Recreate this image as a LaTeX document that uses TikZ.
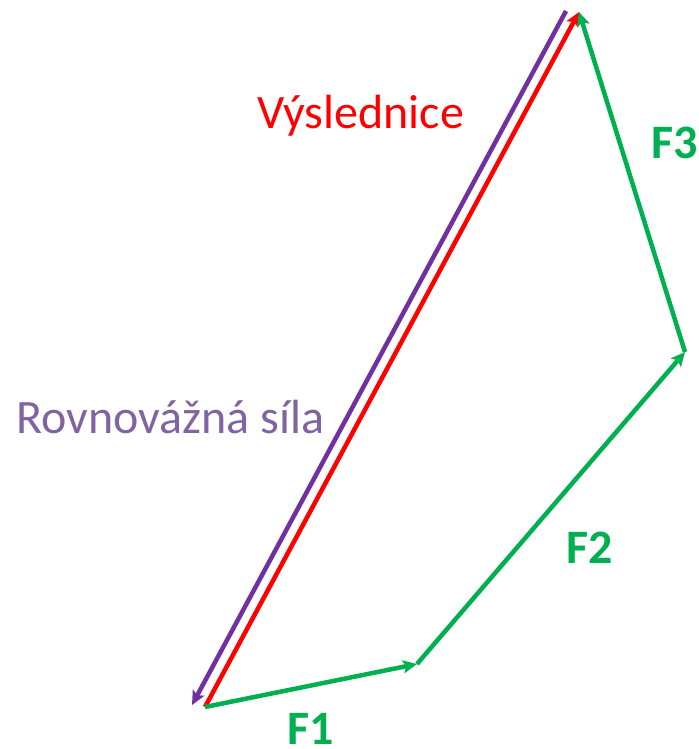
\documentclass[tikz,border=0pt]{standalone}
\usepackage{fontspec}
\setmainfont{Carlito}
\usetikzlibrary{arrows.meta}
\definecolor{fgreen}{RGB}{0,176,80}
\definecolor{fred}{RGB}{255,0,0}
\definecolor{fpurple}{RGB}{112,48,160}
\definecolor{tpurple}{RGB}{128,100,162}
\tikzset{
  force/.style={line width=4.5bp, -{Stealth[length=14bp,width=13bp,inset=3bp]}},
  lbl/.style={anchor=base west, inner sep=0pt, font=\fontsize{48bp}{52bp}\selectfont},
  flbl/.style={lbl, font=\fontsize{48bp}{52bp}\selectfont\bfseries, text=fgreen}
}
\begin{document}
\begin{tikzpicture}[x=1bp,y=-1bp]
\useasboundingbox (0,0) rectangle (699,749);
\coordinate (A) at (205,707);
\coordinate (B) at (417,664);
\coordinate (C) at (685,352);
\coordinate (D) at (579,12);
\coordinate (P1) at (566,11);
\coordinate (P2) at (192,705);
\draw[force, fpurple] (P1) -- (P2);
\draw[force, fred] (A) -- (D);
\draw[force, fgreen] (A) -- (B);
\draw[force, fgreen] (B) -- (C);
\draw[force, fgreen] (C) -- (D);
\node[lbl, text=fred] (vys) at (257,128) {Výslednice};
\node[lbl, text=tpurple] (rov) at (16,433) {Rovnovážná síla};
\node[flbl] (f1) at (287,744) {F1};
\node[flbl] (f2) at (566,563) {F2};
\node[flbl] (f3) at (651,158) {F3};
\end{tikzpicture}
\end{document}
